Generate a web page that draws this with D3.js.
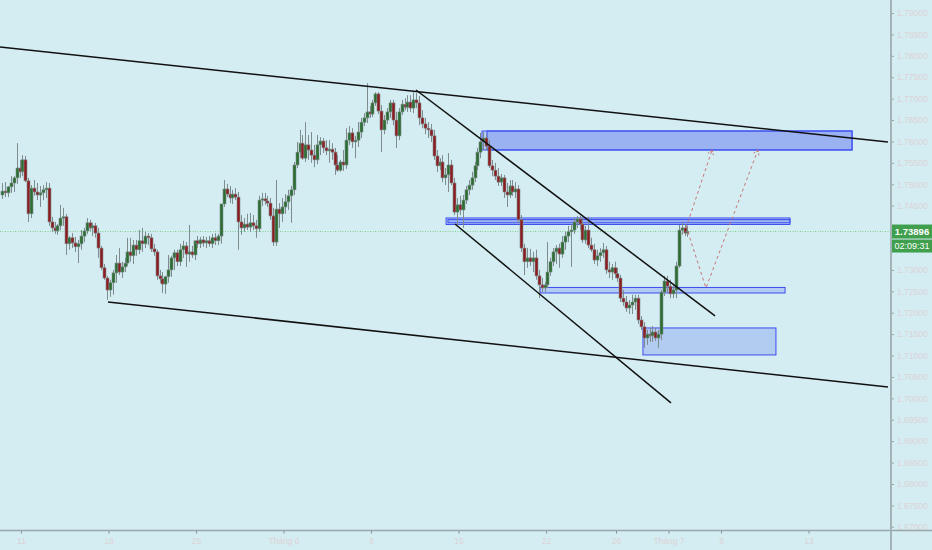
<!DOCTYPE html>
<html><head><meta charset="utf-8">
<script src="https://cdn.jsdelivr.net/npm/d3@7"></script>
<style>html,body{margin:0;padding:0;background:#d4edf2;overflow:hidden}svg{display:block}</style>
</head><body><svg id="c" width="932" height="550"></svg>
<script>
// OHLC candles (4H)
const candles = [
[1.7475,1.7503,1.7466,1.7484],[1.7484,1.7505,1.7470,1.7480],[1.7480,1.7496,1.7470,1.7494],[1.7494,1.7519,1.7480,1.7503],[1.7503,1.7519,1.7482,1.7515],
[1.7515,1.7596,1.7501,1.7538],[1.7538,1.7557,1.7515,1.7529],[1.7529,1.7568,1.7519,1.7557],[1.7557,1.7566,1.7505,1.7508],[1.7508,1.7515,1.7412,1.7431],
[1.7431,1.7498,1.7421,1.7491],[1.7491,1.7510,1.7473,1.7482],[1.7482,1.7503,1.7463,1.7475],[1.7475,1.7496,1.7447,1.7480],[1.7480,1.7498,1.7463,1.7487],
[1.7487,1.7505,1.7468,1.7491],[1.7491,1.7503,1.7403,1.7412],[1.7412,1.7424,1.7389,1.7398],[1.7398,1.7412,1.7384,1.7391],[1.7391,1.7407,1.7382,1.7403],
[1.7403,1.7452,1.7393,1.7421],[1.7421,1.7445,1.7403,1.7424],[1.7424,1.7431,1.7335,1.7361],[1.7361,1.7379,1.7347,1.7375],[1.7375,1.7386,1.7351,1.7363],
[1.7363,1.7377,1.7342,1.7354],[1.7354,1.7370,1.7316,1.7361],[1.7361,1.7393,1.7347,1.7379],[1.7379,1.7398,1.7365,1.7391],[1.7391,1.7421,1.7384,1.7410],
[1.7410,1.7417,1.7391,1.7398],[1.7398,1.7410,1.7379,1.7403],[1.7403,1.7410,1.7375,1.7386],[1.7386,1.7398,1.7328,1.7351],[1.7351,1.7356,1.7300,1.7305],
[1.7305,1.7314,1.7277,1.7281],[1.7281,1.7286,1.7230,1.7253],[1.7253,1.7277,1.7237,1.7270],[1.7270,1.7300,1.7242,1.7293],[1.7293,1.7335,1.7270,1.7316],
[1.7316,1.7351,1.7288,1.7295],[1.7295,1.7319,1.7281,1.7307],[1.7307,1.7328,1.7295,1.7316],[1.7316,1.7375,1.7309,1.7342],[1.7342,1.7375,1.7319,1.7333],
[1.7333,1.7370,1.7314,1.7358],[1.7358,1.7370,1.7333,1.7347],[1.7347,1.7393,1.7337,1.7368],[1.7368,1.7398,1.7342,1.7361],[1.7361,1.7389,1.7351,1.7379],
[1.7379,1.7386,1.7358,1.7375],[1.7375,1.7384,1.7342,1.7349],[1.7349,1.7361,1.7333,1.7342],[1.7342,1.7347,1.7277,1.7286],[1.7286,1.7300,1.7270,1.7279],
[1.7279,1.7295,1.7246,1.7267],[1.7267,1.7286,1.7244,1.7284],[1.7284,1.7335,1.7270,1.7300],[1.7300,1.7333,1.7284,1.7328],[1.7328,1.7347,1.7300,1.7340],
[1.7340,1.7347,1.7309,1.7319],[1.7319,1.7361,1.7309,1.7347],[1.7347,1.7368,1.7328,1.7356],[1.7356,1.7365,1.7307,1.7337],[1.7337,1.7405,1.7319,1.7342],
[1.7342,1.7356,1.7328,1.7335],[1.7335,1.7347,1.7323,1.7368],[1.7368,1.7379,1.7351,1.7361],[1.7361,1.7377,1.7351,1.7370],[1.7370,1.7379,1.7354,1.7363],
[1.7363,1.7377,1.7351,1.7368],[1.7368,1.7379,1.7354,1.7361],[1.7361,1.7384,1.7351,1.7375],[1.7375,1.7386,1.7358,1.7368],[1.7368,1.7384,1.7358,1.7379],
[1.7379,1.7398,1.7361,1.7454],[1.7454,1.7510,1.7447,1.7489],[1.7489,1.7501,1.7470,1.7477],[1.7477,1.7496,1.7456,1.7468],[1.7468,1.7487,1.7454,1.7477],
[1.7477,1.7491,1.7463,1.7470],[1.7470,1.7482,1.7347,1.7412],[1.7412,1.7428,1.7382,1.7398],[1.7398,1.7421,1.7389,1.7407],[1.7407,1.7431,1.7393,1.7400],
[1.7400,1.7433,1.7389,1.7410],[1.7410,1.7428,1.7393,1.7403],[1.7403,1.7417,1.7375,1.7396],[1.7396,1.7473,1.7389,1.7463],[1.7463,1.7480,1.7449,1.7466],
[1.7466,1.7480,1.7452,1.7461],[1.7461,1.7473,1.7447,1.7456],[1.7456,1.7468,1.7417,1.7426],[1.7426,1.7445,1.7356,1.7365],[1.7365,1.7510,1.7356,1.7442],
[1.7442,1.7456,1.7398,1.7431],[1.7431,1.7468,1.7412,1.7447],[1.7447,1.7477,1.7431,1.7459],[1.7459,1.7487,1.7440,1.7473],[1.7473,1.7496,1.7410,1.7487],
[1.7487,1.7552,1.7475,1.7545],[1.7545,1.7599,1.7538,1.7575],[1.7575,1.7627,1.7561,1.7596],[1.7596,1.7615,1.7557,1.7561],[1.7561,1.7645,1.7552,1.7592],
[1.7592,1.7615,1.7557,1.7580],[1.7580,1.7622,1.7550,1.7568],[1.7568,1.7592,1.7540,1.7557],[1.7557,1.7615,1.7547,1.7592],[1.7592,1.7610,1.7568,1.7601],
[1.7601,1.7608,1.7573,1.7585],[1.7585,1.7603,1.7568,1.7578],[1.7578,1.7603,1.7550,1.7582],[1.7582,1.7596,1.7557,1.7575],[1.7575,1.7585,1.7522,1.7545],
[1.7545,1.7568,1.7529,1.7533],[1.7533,1.7557,1.7529,1.7552],[1.7552,1.7580,1.7531,1.7545],[1.7545,1.7631,1.7536,1.7603],[1.7603,1.7636,1.7592,1.7620],
[1.7620,1.7631,1.7585,1.7599],[1.7599,1.7613,1.7561,1.7603],[1.7603,1.7645,1.7587,1.7622],[1.7622,1.7655,1.7608,1.7645],[1.7645,1.7666,1.7636,1.7655],
[1.7655,1.7736,1.7643,1.7669],[1.7669,1.7683,1.7655,1.7664],[1.7664,1.7697,1.7657,1.7690],[1.7690,1.7715,1.7683,1.7711],[1.7711,1.7715,1.7664,1.7671],
[1.7671,1.7685,1.7575,1.7627],[1.7627,1.7662,1.7617,1.7650],[1.7650,1.7678,1.7641,1.7669],[1.7669,1.7697,1.7655,1.7690],[1.7690,1.7697,1.7638,1.7650],
[1.7650,1.7669,1.7585,1.7613],[1.7613,1.7678,1.7603,1.7669],[1.7669,1.7697,1.7662,1.7687],[1.7687,1.7701,1.7673,1.7680],[1.7680,1.7708,1.7669,1.7692],
[1.7692,1.7708,1.7669,1.7678],[1.7678,1.7715,1.7666,1.7697],[1.7697,1.7713,1.7678,1.7690],[1.7690,1.7706,1.7638,1.7655],[1.7655,1.7673,1.7631,1.7641],
[1.7641,1.7655,1.7617,1.7631],[1.7631,1.7645,1.7608,1.7627],[1.7627,1.7641,1.7599,1.7613],[1.7613,1.7627,1.7557,1.7566],[1.7566,1.7580,1.7529,1.7543],
[1.7543,1.7561,1.7533,1.7552],[1.7552,1.7568,1.7505,1.7515],[1.7515,1.7538,1.7498,1.7522],[1.7522,1.7573,1.7482,1.7545],[1.7545,1.7557,1.7498,1.7503],
[1.7503,1.7515,1.7428,1.7435],[1.7435,1.7468,1.7405,1.7452],[1.7452,1.7473,1.7428,1.7440],[1.7440,1.7475,1.7398,1.7463],[1.7463,1.7496,1.7454,1.7487],
[1.7487,1.7510,1.7475,1.7498],[1.7498,1.7529,1.7487,1.7515],[1.7515,1.7552,1.7505,1.7543],[1.7543,1.7585,1.7533,1.7575],[1.7575,1.7620,1.7561,1.7599],
[1.7599,1.7622,1.7580,1.7608],[1.7608,1.7615,1.7580,1.7589],[1.7589,1.7603,1.7538,1.7543],[1.7543,1.7557,1.7519,1.7533],[1.7533,1.7550,1.7510,1.7519],
[1.7519,1.7538,1.7496,1.7505],[1.7505,1.7524,1.7496,1.7515],[1.7515,1.7522,1.7468,1.7482],[1.7482,1.7503,1.7447,1.7475],[1.7475,1.7510,1.7468,1.7496],
[1.7496,1.7510,1.7473,1.7482],[1.7482,1.7505,1.7468,1.7489],[1.7489,1.7498,1.7410,1.7417],[1.7417,1.7428,1.7342,1.7351],[1.7351,1.7361,1.7288,1.7319],
[1.7319,1.7351,1.7305,1.7328],[1.7328,1.7349,1.7309,1.7319],[1.7319,1.7342,1.7295,1.7328],[1.7328,1.7347,1.7277,1.7286],[1.7286,1.7300,1.7234,1.7265],
[1.7265,1.7281,1.7248,1.7258],[1.7258,1.7272,1.7248,1.7265],[1.7265,1.7365,1.7258,1.7295],[1.7295,1.7328,1.7286,1.7319],[1.7319,1.7351,1.7309,1.7342],
[1.7342,1.7358,1.7314,1.7351],[1.7351,1.7361,1.7305,1.7337],[1.7337,1.7379,1.7328,1.7365],[1.7365,1.7389,1.7347,1.7379],[1.7379,1.7403,1.7365,1.7389],
[1.7389,1.7407,1.7307,1.7393],[1.7393,1.7421,1.7384,1.7412],[1.7412,1.7426,1.7398,1.7419],[1.7419,1.7426,1.7393,1.7407],[1.7407,1.7421,1.7363,1.7370],
[1.7370,1.7403,1.7361,1.7393],[1.7393,1.7424,1.7351,1.7358],[1.7358,1.7375,1.7342,1.7347],[1.7347,1.7361,1.7314,1.7323],[1.7323,1.7347,1.7309,1.7333],
[1.7333,1.7351,1.7319,1.7340],[1.7340,1.7363,1.7328,1.7347],[1.7347,1.7356,1.7291,1.7300],[1.7300,1.7319,1.7281,1.7295],[1.7295,1.7314,1.7277,1.7305],
[1.7305,1.7319,1.7281,1.7291],[1.7291,1.7305,1.7272,1.7281],[1.7281,1.7288,1.7225,1.7234],[1.7234,1.7253,1.7216,1.7225],[1.7225,1.7239,1.7202,1.7211],
[1.7211,1.7230,1.7197,1.7218],[1.7218,1.7242,1.7197,1.7225],[1.7225,1.7242,1.7207,1.7234],[1.7234,1.7242,1.7174,1.7183],[1.7183,1.7192,1.7160,1.7167],
[1.7167,1.7178,1.7118,1.7141],[1.7141,1.7160,1.7125,1.7150],[1.7150,1.7164,1.7132,1.7146],[1.7146,1.7169,1.7132,1.7155],[1.7155,1.7164,1.7134,1.7141],
[1.7141,1.7160,1.7118,1.7150],[1.7150,1.7253,1.7136,1.7248],[1.7248,1.7286,1.7239,1.7274],[1.7274,1.7286,1.7248,1.7262],[1.7262,1.7277,1.7234,1.7244],
[1.7244,1.7267,1.7234,1.7253],[1.7253,1.7319,1.7234,1.7309],[1.7309,1.7405,1.7305,1.7393],[1.7393,1.7410,1.7382,1.7398],[1.7398,1.7407,1.7379,1.7386],
[1.7386,1.7403,1.7377,1.73896]
];
const firstCandleDay = -7/6;      // trading-day index of the first candle (0 = 11 May)
const candlesPerDay = 6;

const xTickDays   = [0, 5, 10, 15, 20, 25, 30, 34, 37, 40, 45];
const xTickLabels = ["11", "18", "25", "Tháng 6", "8", "15", "22", "26", "Tháng 7", "6", "13"];
const yTickValues = [1.67,1.675,1.68,1.685,1.69,1.695,1.70,1.705,1.71,1.715,1.72,1.725,1.73,1.735,1.74,1.745,1.75,1.755,1.76,1.765,1.77,1.775,1.78,1.785,1.79];

const lastPrice = 1.73896;
const countdown = "02:09:31";

// drawings: [day, price]
const trendLines = [
  [[-1.2, 1.78206], [49.54, 1.75987]],
  [[4.97, 1.72251], [49.54, 1.70267]],
  [[22.57, 1.77202], [39.66, 1.71924]],
  [[24.80, 1.74073], [37.14, 1.69893]]
];
const zones = [
  {d0: 26.34, d1: 47.49, p0: 1.75801, p1: 1.76244},
  {d0: 26.63, d1: 47.49, p0: 1.75801, p1: 1.76244},
  {d0: 24.29, d1: 43.94, p0: 1.74061, p1: 1.74213},
  {d0: 24.40, d1: 43.94, p0: 1.74100, p1: 1.74175},
  {d0: 29.66, d1: 43.66, p0: 1.72461, p1: 1.72590},
  {d0: 35.54, d1: 43.14, p0: 1.71014, p1: 1.71644}
];
const arrows = [
  [[38.00, 1.73979], [39.49, 1.75801]],
  [[38.11, 1.73886], [39.14, 1.72578], [42.11, 1.75801]]
];

const W = 932, H = 550, axisX = 891, axisY = 530.5;
const svg = d3.select("#c");
svg.append("rect").attr("width", W).attr("height", H).attr("fill", "#d4edf2");

const x = d3.scaleLinear().domain([0, 45]).range([21, 808.5]);
const y = d3.scaleLinear().domain([1.67, 1.79]).range([526.8, 13]);

svg.append("clipPath").attr("id", "plot").append("rect")
  .attr("x", 0).attr("y", 0).attr("width", axisX).attr("height", axisY);
const plot = svg.append("g").attr("clip-path", "url(#plot)");

// current price line
plot.append("line").attr("x1", 0).attr("x2", axisX)
  .attr("y1", y(lastPrice)).attr("y2", y(lastPrice))
  .attr("stroke", "#7ccf8c").attr("stroke-width", 1).attr("stroke-dasharray", "1,1.5");

// zones
plot.selectAll("rect.zone").data(zones).join("rect").attr("class", "zone")
  .attr("x", d => x(d.d0)).attr("width", d => x(d.d1) - x(d.d0))
  .attr("y", d => y(d.p1)).attr("height", d => y(d.p0) - y(d.p1))
  .attr("fill", "rgba(90,110,240,0.27)").attr("stroke", "#3b4cf2").attr("stroke-width", 1);

// candles
const cx = i => x(firstCandleDay + (i + 0.5) / candlesPerDay);
const cg = plot.append("g");
cg.selectAll("line").data(candles).join("line")
  .attr("x1", (d, i) => Math.round(cx(i)) + 0.5).attr("x2", (d, i) => Math.round(cx(i)) + 0.5)
  .attr("y1", d => y(d[1])).attr("y2", d => y(d[2]))
  .attr("stroke", "#7f8c8e").attr("stroke-width", 1);
cg.selectAll("rect").data(candles).join("rect")
  .attr("x", (d, i) => Math.round(cx(i)) - 1)
  .attr("width", 3)
  .attr("y", d => y(Math.max(d[0], d[3])))
  .attr("height", d => Math.max(1, Math.abs(y(d[0]) - y(d[3]))))
  .attr("fill", d => d[3] >= d[0] ? "#2a6e30" : "#8c1c20")
  .attr("stroke", "#7f8c8e").attr("stroke-width", 0.6);

// trend lines
plot.selectAll("line.tl").data(trendLines).join("line").attr("class", "tl")
  .attr("x1", d => x(d[0][0])).attr("y1", d => y(d[0][1]))
  .attr("x2", d => x(d[1][0])).attr("y2", d => y(d[1][1]))
  .attr("stroke", "#111").attr("stroke-width", 1.5);

// dashed arrows
const lineGen = d3.line().x(d => x(d[0])).y(d => y(d[1]));
arrows.forEach(a => {
  plot.append("path").attr("d", lineGen(a)).attr("fill", "none")
    .attr("stroke", "#c67775").attr("stroke-width", 1).attr("stroke-dasharray", "3,3");
  const p1 = a[a.length - 2], p2 = a[a.length - 1];
  const X1 = x(p1[0]), Y1 = y(p1[1]), X2 = x(p2[0]), Y2 = y(p2[1]);
  const ang = Math.atan2(Y2 - Y1, X2 - X1), L = 7;
  [ang + Math.PI * 0.82, ang - Math.PI * 0.82].forEach(t => {
    plot.append("line").attr("x1", X2).attr("y1", Y2)
      .attr("x2", X2 + L * Math.cos(t)).attr("y2", Y2 + L * Math.sin(t))
      .attr("stroke", "#c67775").attr("stroke-width", 1).attr("stroke-dasharray", "2,1.5");
  });
});

// axes
const faint = "#dcd2d6";
const py = y(lastPrice);
const shownY = yTickValues.filter(v => Math.abs(y(v) - py) > 22);   // hidden behind the price labels
const yAxis = d3.axisRight(y).tickValues(shownY).tickFormat(d3.format(".5f")).tickSize(3).tickPadding(3);
const gy = svg.append("g").attr("transform", `translate(${axisX},0)`).call(yAxis);
gy.select(".domain").remove();
gy.selectAll(".tick line").attr("stroke", "#97a7aa");
gy.selectAll(".tick text").attr("fill", faint).attr("font-family", "Liberation Sans, Arial, sans-serif").attr("font-size", 8.5);

const xAxis = d3.axisBottom(x).tickValues(xTickDays).tickFormat((d, i) => xTickLabels[i]).tickSize(3).tickPadding(4);
const gx = svg.append("g").attr("transform", `translate(0,${axisY})`).call(xAxis);
gx.select(".domain").remove();
gx.selectAll(".tick line").attr("stroke", "#7f8f92");
gx.selectAll(".tick text").attr("fill", faint).attr("font-family", "Liberation Sans, Arial, sans-serif").attr("font-size", 8.5);

svg.append("line").attr("x1", 0).attr("x2", W).attr("y1", axisY).attr("y2", axisY)
  .attr("stroke", "#97a7aa").attr("stroke-width", 1.5);
svg.append("line").attr("x1", axisX).attr("x2", axisX).attr("y1", 0).attr("y2", H)
  .attr("stroke", "#a3b3b6").attr("stroke-width", 2);

// last price + countdown labels
svg.append("rect").attr("x", axisX + 1).attr("y", py - 7).attr("width", 40).attr("height", 14).attr("fill", "#3f9f4d");
svg.append("text").attr("x", axisX + 21).attr("y", py + 3.2).attr("text-anchor", "middle")
  .attr("fill", "#fff").attr("font-family", "Liberation Sans, Arial, sans-serif").attr("font-size", 9.5).attr("font-weight", "bold")
  .text(d3.format(".5f")(lastPrice));
svg.append("rect").attr("x", axisX + 1).attr("y", py + 8).attr("width", 40).attr("height", 13).attr("fill", "#3f9f4d");
svg.append("text").attr("x", axisX + 21).attr("y", py + 17.8).attr("text-anchor", "middle")
  .attr("fill", "#fff").attr("font-family", "Liberation Sans, Arial, sans-serif").attr("font-size", 9)
  .text(countdown);
</script></body></html>
